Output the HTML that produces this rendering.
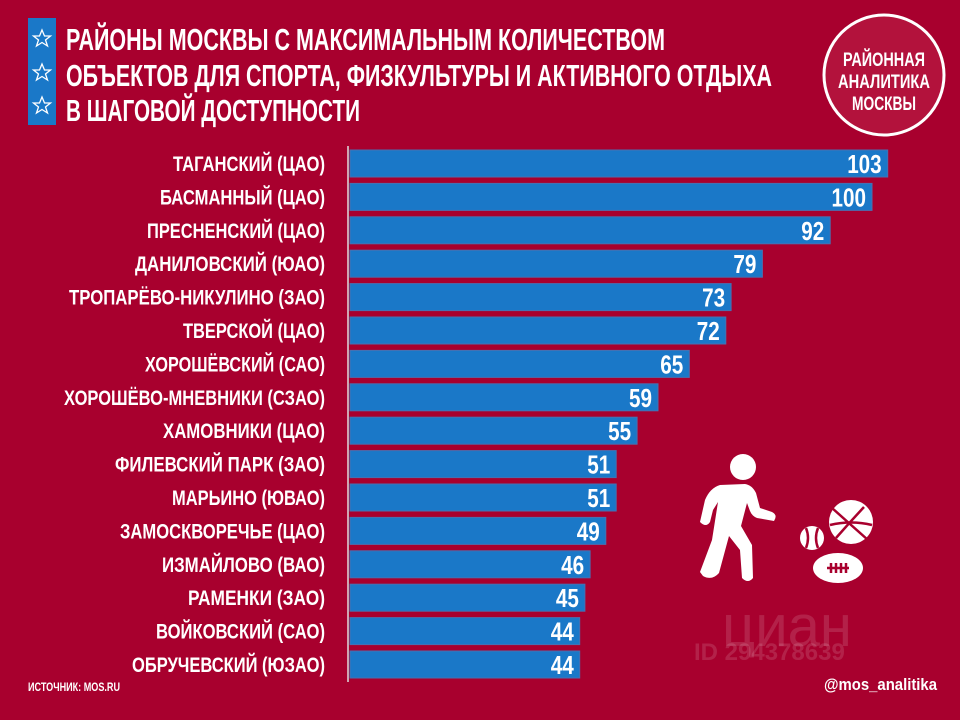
<!DOCTYPE html>
<html><head><meta charset="utf-8"><style>
html,body{margin:0;padding:0;background:#a8002e;}
svg{display:block}
text{font-family:"Liberation Sans",sans-serif;font-weight:bold;fill:#fff}
</style></head><body>
<svg width="960" height="720" viewBox="0 0 960 720" xmlns="http://www.w3.org/2000/svg">
<rect width="960" height="720" fill="#a8002e"/>
<rect x="28" y="18" width="28" height="107" fill="#1a78c8"/>
<g fill="none" stroke="#fff" stroke-width="1.3">
<polygon points="42,30 44.5,36 50.5,36 45.5,40 47.5,46 42,42.5 36.5,46 38.5,40 33.5,36 39.5,36"/>
<polygon points="42,64 44.5,70 50.5,70 45.5,74 47.5,80 42,76.5 36.5,80 38.5,74 33.5,70 39.5,70"/>
<polygon points="42,97 44.5,103 50.5,103 45.5,107 47.5,113 42,109.5 36.5,113 38.5,107 33.5,103 39.5,103"/>
</g>
<text x="66" y="50" font-size="31" textLength="599" lengthAdjust="spacingAndGlyphs">РАЙОНЫ МОСКВЫ С МАКСИМАЛЬНЫМ КОЛИЧЕСТВОМ</text>
<text x="66" y="86" font-size="31" textLength="706" lengthAdjust="spacingAndGlyphs">ОБЪЕКТОВ ДЛЯ СПОРТА, ФИЗКУЛЬТУРЫ И АКТИВНОГО ОТДЫХА</text>
<text x="66" y="121" font-size="31" textLength="294" lengthAdjust="spacingAndGlyphs">В ШАГОВОЙ ДОСТУПНОСТИ</text>
<circle cx="884" cy="75" r="60" fill="#b3123c" stroke="#fff" stroke-width="3"/>
<text x="884" y="66" font-size="19" text-anchor="middle" textLength="82" lengthAdjust="spacingAndGlyphs">РАЙОННАЯ</text>
<text x="884" y="88" font-size="19" text-anchor="middle" textLength="92" lengthAdjust="spacingAndGlyphs">АНАЛИТИКА</text>
<text x="884" y="110" font-size="19" text-anchor="middle" textLength="64" lengthAdjust="spacingAndGlyphs">МОСКВЫ</text>
<line x1="348" y1="146" x2="348" y2="682" stroke="#ddd" stroke-width="1.5"/>
<g id="bars"></g>
<g fill="#fff">
<circle cx="743" cy="467" r="13"/>
<path d="M720,485 L745,484 Q752,485 756,493 L760,508 L772,512 Q778,515 774,521 L757,518 Q752,516 750,511 L747,503 L741,526 L752,545 L753,578 Q748,584 742,578 L740,550 L729,536 L719,573 Q712,581 703,576 L700,572 L712,540 L718,502 L713,510 L710,522 Q706,528 700,522 L705,500 Q710,488 720,485 Z"/>
<circle cx="851" cy="522" r="22"/>
<circle cx="812" cy="538" r="12"/>
<ellipse cx="838" cy="568" rx="25" ry="15"/>
</g>
<g stroke="#a8002e" stroke-width="2.5" fill="none">
<path d="M832,508 Q851,525 868,540"/><path d="M836,538 Q850,522 864,507"/><path d="M830,525 Q851,520 872,525"/>
<path d="M806,528 Q810,538 806,548"/><path d="M818,528 Q814,538 818,548"/>
<path d="M827,568 L849,568 M831,563 v10 M836,563 v10 M841,563 v10 M846,563 v10"/>
</g>
<text x="722" y="646" font-size="58" style="fill:#fff;opacity:0.13;font-weight:normal">циан</text>
<text x="694" y="660" font-size="24" style="fill:#fff;opacity:0.13">ID 294378639</text>
<text x="28" y="691" font-size="12" textLength="92" lengthAdjust="spacingAndGlyphs">ИСТОЧНИК: MOS.RU</text>
<text x="937" y="690" font-size="17" text-anchor="end" textLength="113" lengthAdjust="spacingAndGlyphs">@mos_analitika</text>
</svg>
<script>
var d=[["ТАГАНСКИЙ (ЦАО)",103,152],["БАСМАННЫЙ (ЦАО)",100,165],["ПРЕСНЕНСКИЙ (ЦАО)",92,178],["ДАНИЛОВСКИЙ (ЮАО)",79,190],["ТРОПАРЁВО-НИКУЛИНО (ЗАО)",73,256],["ТВЕРСКОЙ (ЦАО)",72,142],["ХОРОШЁВСКИЙ (САО)",65,180],["ХОРОШЁВО-МНЕВНИКИ (СЗАО)",59,261],["ХАМОВНИКИ (ЦАО)",55,162],["ФИЛЕВСКИЙ ПАРК (ЗАО)",51,210],["МАРЬИНО (ЮВАО)",51,153],["ЗАМОСКВОРЕЧЬЕ (ЦАО)",49,205],["ИЗМАЙЛОВО (ВАО)",46,163],["РАМЕНКИ (ЗАО)",45,137],["ВОЙКОВСКИЙ (САО)",44,169],["ОБРУЧЕВСКИЙ (ЮЗАО)",44,193]];
var g=document.getElementById("bars"),s="";
d.forEach(function(r,i){var y=150+i*33.4,w=r[1]*5.22;
s+='<rect x="350" y="'+y.toFixed(1)+'" width="'+w.toFixed(1)+'" height="27" fill="#1a78c8" stroke="#4a6fb0" stroke-width="1"/>';
s+='<text x="325" y="'+(y+21).toFixed(1)+'" font-size="21" text-anchor="end" textLength="'+r[2]+'" lengthAdjust="spacingAndGlyphs">'+r[0]+'</text>';
var vl=String(r[1]).length*11.5;
s+='<text x="'+(350+w-6).toFixed(1)+'" y="'+(y+23).toFixed(1)+'" font-size="26" text-anchor="end" textLength="'+vl+'" lengthAdjust="spacingAndGlyphs">'+r[1]+'</text>';});
g.innerHTML=s;
</script>
</body></html>
